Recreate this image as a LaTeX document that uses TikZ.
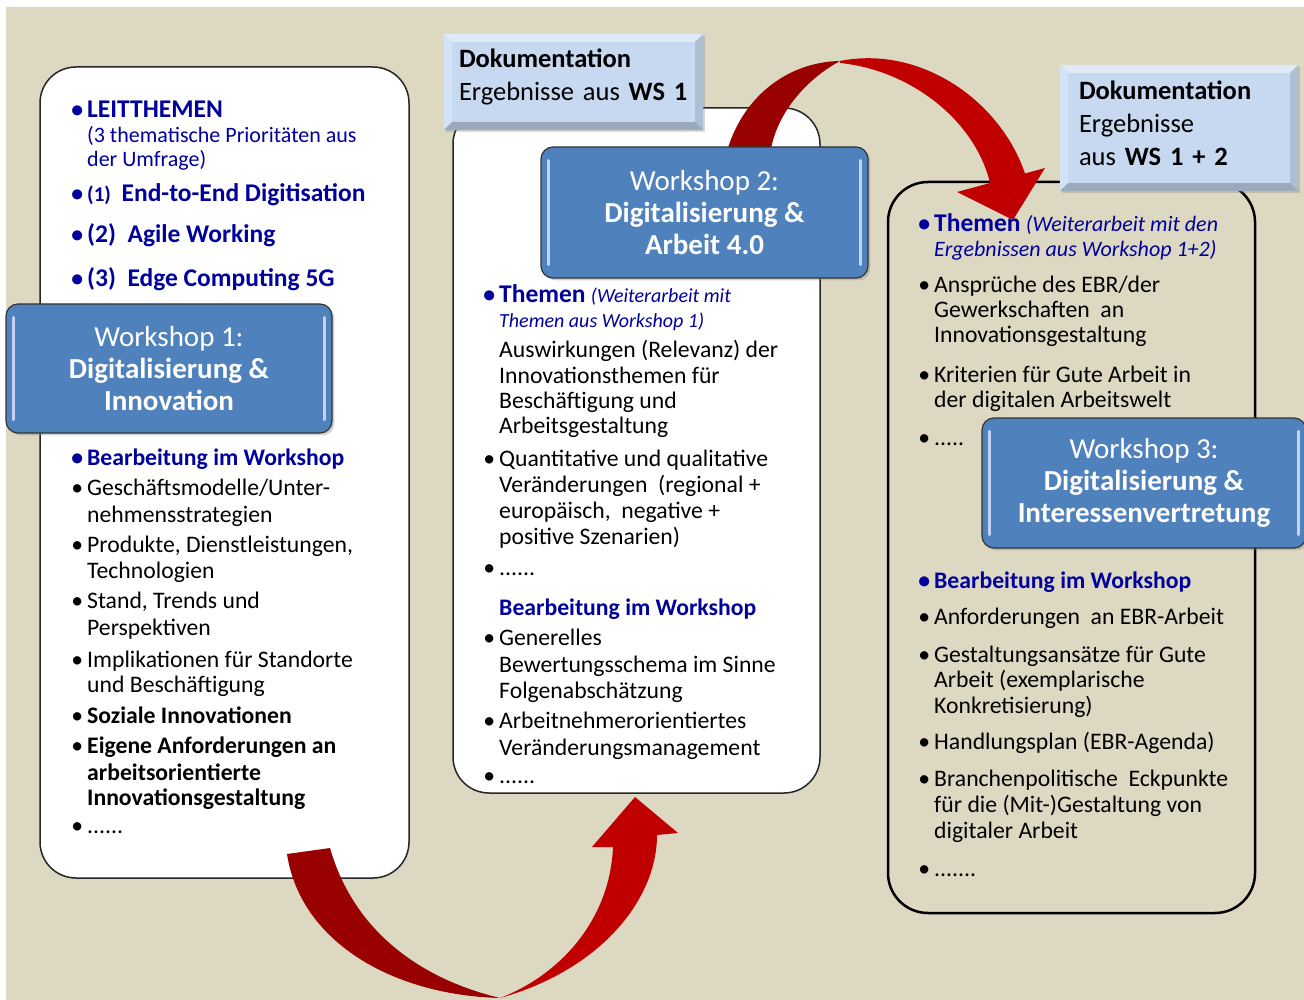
\documentclass[tikz,border=0pt]{standalone}
\usepackage{fontspec}
\setmainfont{Carlito}
\usetikzlibrary{shapes,shadows,calc}

\definecolor{paper}{HTML}{DDD8C2}
\definecolor{wsblue}{HTML}{4F81BD}
\definecolor{dokblue}{HTML}{C6D9F1}
\definecolor{hdblue}{HTML}{00009C}
\definecolor{arrdark}{HTML}{990000}
\definecolor{arrred}{HTML}{C00000}

\tikzstyle{panel}=[draw=black!85,line width=1.5pt,rounded corners=36pt,fill=white,inner sep=0pt]
\tikzstyle{wsbox}=[draw=black!80,line width=1.2pt,rounded corners=12pt,fill=wsblue,text=white,
                   align=center,inner sep=0pt,drop shadow={opacity=0.35},font=\fontsize{29}{32}\selectfont]
\tikzstyle{dokbox}=[fill=dokblue,align=left,inner ysep=0pt,drop shadow={opacity=0.3},
                    font=\fontsize{26.5}{33}\selectfont]
\tikzstyle{gloss}=[draw=blue!10!white!80!wsblue,line width=3pt,line cap=round]
\tikzstyle{item}=[anchor=base west,inner sep=0pt,font=\fontsize{23.7}{26}\selectfont]

\newcommand\bul{\llap{\textbullet\hspace{4pt}}}
\newcommand\hd[1]{{\color{hdblue}\bfseries #1}}
\newcommand\gross[1]{{\fontsize{25.5}{30}\selectfont #1}}
\newcommand\klein[1]{{\fontsize{22}{24}\selectfont #1}}
\newcommand\anm[2][20]{{\color{hdblue}\itshape\fontsize{#1}{24}\selectfont #2}}
% bevelled edge of a Dokumentation box
\newcommand\bevel[1]{%
  \fill[white!45!dokblue] (#1.north west) -- (#1.north east) -- ($(#1.north east)+(-8,8)$) -- ($(#1.north west)+(8,8)$) -- cycle;
  \fill[white!25!dokblue] (#1.north west) -- ($(#1.north west)+(8,8)$) -- ($(#1.south west)+(8,-8)$) -- (#1.south west) -- cycle;
  \fill[black!12!dokblue] (#1.north east) -- ($(#1.north east)+(-8,8)$) -- ($(#1.south east)+(-8,-8)$) -- (#1.south east) -- cycle;
  \fill[black!22!dokblue] (#1.south west) -- ($(#1.south west)+(8,-8)$) -- ($(#1.south east)+(-8,-8)$) -- (#1.south east) -- cycle;}

\begin{document}
\begin{tikzpicture}[x=1pt,y=-1pt]
    \useasboundingbox (0,0) rectangle (1304,1000);
    \fill[white] (0,0) rectangle (1304,1000);
    \fill[paper] (6,7) rectangle (1304,1000);

    % First the three panels
    \node[panel,minimum width=369pt,minimum height=811pt] (p1) at (224.5,472.5) {};
    \node[panel,minimum width=367pt,minimum height=685pt] (p2) at (636.5,450.5) {};
    \node[panel,fill=none,draw=black,line width=2.5pt,rounded corners=40pt,
          minimum width=367pt,minimum height=731pt] (p3) at (1071.5,547.5) {};

    % Curved arrows, a dark and a bright half each
    \fill[arrdark] (287,854) .. controls (300,940) and (390,995) .. (500,998)
                   .. controls (425,980) and (355,935) .. (330,848) -- cycle;
    \fill[arrred] (500,998) .. controls (600,970) and (657,900) .. (657,835)
                  -- (678,833) -- (635,797) -- (592,847) -- (613,847)
                  .. controls (610,920) and (560,975) .. (500,998) -- cycle;
    \fill[arrdark] (726,155) .. controls (740,100) and (785,62) .. (840,61)
                   .. controls (805,80) and (775,115) .. (770,155) -- cycle;
    \fill[arrred] (840,61) .. controls (920,45) and (1000,100) .. (1025,173.5)
                  -- (1045,168) -- (1013,220) -- (957,192) -- (990,183)
                  .. controls (975,120) and (910,70) .. (840,63) -- cycle;

    % Workshop titles
    \node[wsbox,minimum width=326pt,minimum height=129pt] (ws1) at (169,368.5)
        {Workshop 1:\\\textbf{Digitalisierung \&}\\\textbf{Innovation}};
    \node[wsbox,minimum width=327pt,minimum height=131pt] (ws2) at (704.5,212.5)
        {Workshop 2:\\\textbf{Digitalisierung \&}\\\textbf{Arbeit 4.0}};
    \node[wsbox,minimum width=324pt,minimum height=130pt] (ws3) at (1144,483)
        {Workshop 3:\\\textbf{Digitalisierung \&}\\\textbf{Interessenvertretung}};
    \foreach \w in {ws1,ws2,ws3} {
        \draw[gloss] ($(\w.north west)+(8,14)$) -- ($(\w.south west)+(8,-14)$);
        \draw[gloss] ($(\w.north east)+(-8,14)$) -- ($(\w.south east)+(-8,-14)$);
    }

    % Dokumentation boxes
    \node[dokbox,inner xsep=15pt,text width=229pt,minimum width=259pt,minimum height=96pt] (dok1) at (573.5,82)
        {\textbf{Dokumentation}\\Ergebnisse aus \textbf{WS 1}\rule[-15pt]{0pt}{0pt}};
    \node[dokbox,inner xsep=19pt,text width=200pt,minimum width=238pt,minimum height=126pt] (dok2) at (1179,128)
        {\textbf{Dokumentation}\\Ergebnisse\\aus \textbf{WS 1 + 2}\rule[-9pt]{0pt}{0pt}};
    \bevel{dok1}
    \bevel{dok2}

    % Panel 1
    \foreach \y/\t [count=\i] in {
        118/{\hd{\bul\gross{LEITTHEMEN}}},
        143/{\color{hdblue}\klein{(3 thematische Prioritäten aus}},
        167/{\color{hdblue}\klein{der Umfrage)}},
        202/{\hd{\bul{\fontsize{21}{24}\selectfont(1)}\ \ \gross{End-to-End Digitisation}}},
        243/{\hd{\bul\gross{(2)\ \ Agile Working}}},
        287/{\hd{\bul\gross{(3)\ \ Edge Computing 5G}}},
        465/{\hd{\bul Bearbeitung im Workshop}},
        495/{\bul Geschäftsmodelle/Unter-},
        522/{nehmensstrategien},
        552/{\bul Produkte, Dienstleistungen,},
        578/{Technologien},
        608/{\bul Stand, Trends und},
        635/{Perspektiven},
        667/{\bul Implikationen für Standorte},
        692/{und Beschäftigung},
        723/{\bul\textbf{Soziale Innovationen}},
        753/{\bul\textbf{Eigene Anforderungen an}},
        780/{\textbf{arbeitsorientierte}},
        805/{\textbf{Innovationsgestaltung}},
        833/{\bul ......}}
        \node[item] (a\i) at (87,\y) {\t};

    % Panel 2
    \foreach \y/\t [count=\i] in {
        303/{\hd{\bul\gross{Themen}} \anm{(Weiterarbeit mit}},
        328/{\anm{Themen aus Workshop 1)}},
        357/{Auswirkungen (Relevanz) der},
        383/{Innovationsthemen für},
        408/{Beschäftigung und},
        433/{Arbeitsgestaltung},
        466/{\bul Quantitative und qualitative},
        492/{Veränderungen \ (regional +},
        518/{europäisch, \ negative +},
        544/{positive Szenarien)},
        575/{\bul ......},
        615/{\hd{Bearbeitung im Workshop}},
        645/{\bul Generelles},
        672/{Bewertungsschema im Sinne},
        698/{Folgenabschätzung},
        728/{\bul Arbeitnehmerorientiertes},
        755/{Veränderungsmanagement},
        783/{\bul ......}}
        \node[item] (b\i) at (499,\y) {\t};

    % Panel 3
    \foreach \y/\t [count=\i] in {
        232/{\hd{\bul\gross{Themen}} \anm[22]{(Weiterarbeit mit den}},
        257/{\anm[22]{Ergebnissen aus Workshop 1+2)}},
        293/{\bul Ansprüche des EBR/der},
        318/{Gewerkschaften \ an},
        343/{Innovationsgestaltung},
        382/{\bul Kriterien für Gute Arbeit in},
        407/{der digitalen Arbeitswelt},
        445/{\bul .....},
        588/{\hd{\bul Bearbeitung im Workshop}},
        624/{\bul Anforderungen \ an EBR-Arbeit},
        662/{\bul Gestaltungsansätze für Gute},
        687/{Arbeit (exemplarische},
        713/{Konkretisierung)},
        749/{\bul Handlungsplan (EBR-Agenda)},
        786/{\bul Branchenpolitische \ Eckpunkte},
        812/{für die (Mit-)Gestaltung von},
        838/{digitaler Arbeit},
        876/{\bul .......}}
        \node[item] (c\i) at (934,\y) {\t};
\end{tikzpicture}
\end{document}
